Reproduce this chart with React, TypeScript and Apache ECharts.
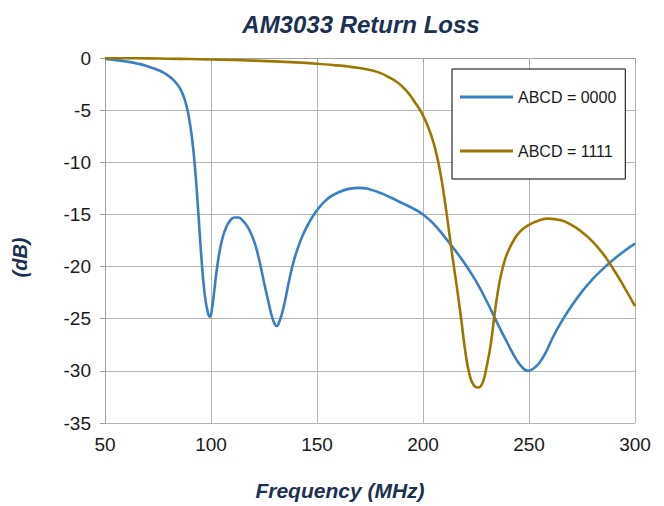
import React, { useEffect, useRef } from "react";
import * as echarts from "echarts";

const seriesNames = ["ABCD = 0000", "ABCD = 1111"];

const freq0000 = [50, 55, 60, 65, 70, 74, 78, 81, 84, 86, 88, 89.5, 91, 92.5, 94, 95.5, 97, 98.5, 99.5, 100.5, 101.5, 103, 105, 107, 109, 111, 113, 115, 117, 119, 121, 123, 125, 127, 128.5, 130, 131, 132, 133.5, 135, 137, 139, 141, 143.5, 146.5, 150, 155, 160, 165, 170, 175, 180, 185, 190, 195, 200, 205, 210, 215, 220, 225, 230, 235, 240, 244, 247, 249.5, 252, 255, 258, 261, 265, 270, 275, 280, 285, 290, 295, 300];
const loss0000 = [-0.1, -0.2, -0.33, -0.52, -0.78, -1.08, -1.45, -1.88, -2.5, -3.15, -4.25, -5.6, -7.6, -10.6, -14.8, -19.2, -22.6, -24.4, -24.8, -24.0, -22.4, -19.9, -17.6, -16.3, -15.6, -15.3, -15.3, -15.6, -16.1, -16.9, -18.0, -19.6, -21.5, -23.3, -24.6, -25.5, -25.7, -25.4, -24.5, -23.2, -21.2, -19.5, -18.2, -16.9, -15.7, -14.6, -13.5, -12.9, -12.55, -12.45, -12.6, -12.95, -13.4, -13.9, -14.4, -15.0, -15.9, -17.1, -18.4, -19.8, -21.4, -23.3, -25.4, -27.4, -28.9, -29.7, -30.0, -29.8, -29.2, -28.2, -26.9, -25.4, -23.8, -22.4, -21.2, -20.2, -19.3, -18.5, -17.8];

const freq1111 = [50, 60, 70, 80, 90, 100, 110, 120, 130, 140, 150, 158, 165, 170, 175, 180, 184, 188, 190, 192, 194, 196, 198, 200, 202, 204, 206, 208, 210, 212, 214, 216, 218, 220, 222, 224, 226, 228, 230, 232, 234, 236, 238, 240, 243, 246, 250, 255, 259, 265, 270, 275, 280, 285, 290, 295, 300];
const loss1111 = [0, -0.02, -0.04, -0.07, -0.1, -0.14, -0.19, -0.25, -0.32, -0.42, -0.55, -0.68, -0.82, -0.96, -1.15, -1.45, -1.85, -2.35, -2.7, -3.1, -3.6, -4.2, -4.8, -5.5, -6.4, -7.5, -8.9, -10.8, -13.3, -16.2, -19.2, -22, -25, -28.2, -30.4, -31.4, -31.6, -31.2, -29.6, -27.4, -24.2, -21.6, -19.8, -18.6, -17.4, -16.6, -16.0, -15.55, -15.4, -15.55, -16.0, -16.7, -17.6, -18.8, -20.3, -22.0, -23.8];

const xTicks = [50, 100, 150, 200, 250, 300];
const yTicks = [0, -5, -10, -15, -20, -25, -30, -35];

const FONT = "'Liberation Sans Narrow', 'Liberation Sans', sans-serif";
const NAVY = "#1c3152";

export default function App() {
  const ref = useRef<HTMLDivElement>(null);
  useEffect(() => {
    if (!ref.current) return;
    const chart = echarts.init(ref.current, null, { renderer: "svg" });
    const pairs = (xs: number[], ys: number[]) => xs.map((x, i) => [x, ys[i]]);
    chart.setOption({
      animation: false,
      backgroundColor: "#ffffff",
      title: {
        text: "AM3033 Return Loss",
        left: 356,
        textAlign: "center",
        top: 7,
        textStyle: { fontFamily: FONT, fontSize: 24, fontStyle: "italic", fontWeight: "bold", color: NAVY },
      },
      grid: { left: 105, right: 29, top: 58, bottom: 81 },
      legend: {
        orient: "vertical",
        left: 452,
        top: 69,
        itemGap: 38,
        itemWidth: 53,
        itemHeight: 3,
        icon: "rect",
        padding: [20, 9, 20, 8],
        borderColor: "#000000",
        borderWidth: 1,
        backgroundColor: "#ffffff",
        textStyle: { fontFamily: FONT, fontSize: 16, color: "#1a1a1a" },
        data: seriesNames,
      },
      xAxis: {
        type: "value",
        min: 50,
        max: 300,
        interval: 50,
        name: "Frequency (MHz)",
        nameLocation: "middle",
        nameGap: 57,
        nameTextStyle: {
          fontFamily: FONT, fontSize: 21, fontStyle: "italic", fontWeight: "bold", color: NAVY,
          padding: [0, 60, 0, 0],
        },
        axisLine: { show: true, lineStyle: { color: "#a0a0a0", width: 1 } },
        axisTick: { show: true, length: 5, lineStyle: { color: "#a0a0a0" } },
        axisLabel: {
          fontFamily: FONT, fontSize: 19, color: "#1a1a1a", margin: 12,
          formatter: (v: number) => (xTicks.includes(v) ? String(v) : ""),
        },
        splitLine: { show: true, lineStyle: { color: "#b4b4b4", width: 1 } },
      },
      yAxis: {
        type: "value",
        min: -35,
        max: 0,
        interval: 5,
        name: "(dB)",
        nameLocation: "middle",
        nameGap: 75,
        nameRotate: 90,
        nameTextStyle: {
          fontFamily: FONT, fontSize: 20, fontStyle: "italic", fontWeight: "bold", color: NAVY,
          padding: [0, 34, 0, 0],
        },
        axisLine: { show: true, lineStyle: { color: "#a0a0a0", width: 1 } },
        axisTick: { show: true, length: 5, lineStyle: { color: "#a0a0a0" } },
        axisLabel: {
          fontFamily: FONT, fontSize: 19, color: "#1a1a1a", margin: 14,
          formatter: (v: number) => (yTicks.includes(v) ? String(v) : ""),
        },
        splitLine: { show: true, lineStyle: { color: "#b4b4b4", width: 1 } },
      },
      series: [
        {
          name: seriesNames[0],
          type: "line",
          data: pairs(freq0000, loss0000),
          showSymbol: false,
          symbol: "none",
          smooth: 0.5,
          color: "#3a7ec3",
          lineStyle: { width: 2.6, color: "#3a7ec3" },
        },
        {
          name: seriesNames[1],
          type: "line",
          data: pairs(freq1111, loss1111),
          showSymbol: false,
          symbol: "none",
          smooth: 0.5,
          color: "#9c7700",
          lineStyle: { width: 2.6, color: "#9c7700" },
        },
      ],
    });
    return () => chart.dispose();
  }, []);
  return <div ref={ref} style={{ position: "fixed", left: 0, top: 0, width: 664, height: 506 }} />;
}
